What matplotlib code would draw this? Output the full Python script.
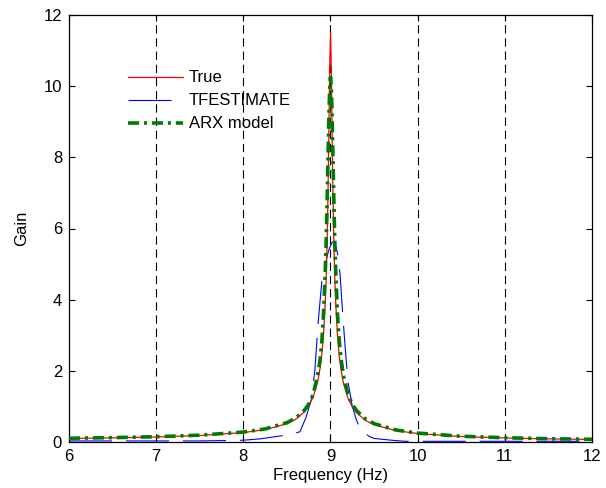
import matplotlib
matplotlib.use("Agg")
import matplotlib.pyplot as plt

plt.rcParams['font.family'] = ['Liberation Sans', 'DejaVu Sans']
plt.rcParams['lines.scale_dashes'] = False

# ---- data ----
freq_true = [6.0, 6.5, 7.0, 7.5, 8.0, 8.25, 8.5, 8.6, 8.7, 8.75, 8.8, 8.85, 8.88, 8.9,
             8.92, 8.94, 8.95, 8.96, 8.97, 8.98, 8.99, 9.0, 9.01, 9.02, 9.03, 9.04,
             9.05, 9.06, 9.08, 9.1, 9.12, 9.15, 9.2, 9.25, 9.3, 9.4, 9.5, 9.75, 10.0,
             10.5, 11.0, 11.5, 12.0]
gain_true = [0.100, 0.116, 0.141, 0.182, 0.265, 0.348, 0.514, 0.639, 0.847, 1.014,
             1.257, 1.664, 2.064, 2.457, 3.03, 3.93, 4.60, 5.51, 6.76, 8.48, 10.46,
             11.50, 10.44, 8.45, 6.73, 5.48, 4.57, 3.90, 3.00, 2.43, 2.04, 1.636,
             1.229, 0.982, 0.820, 0.611, 0.486, 0.320, 0.237, 0.154, 0.1125, 0.0878,
             0.0714]

freq_tfe = [6.0, 6.5, 7.0, 7.5, 7.8, 8.0, 8.2, 8.45, 8.5, 8.6, 8.65, 8.72, 8.78, 8.82,
            8.86, 8.90, 8.94, 8.98, 9.02, 9.05, 9.08, 9.11, 9.14, 9.17, 9.20, 9.25,
            9.30, 9.35, 9.45, 9.5, 9.7, 9.85, 10.0, 10.5, 11.0, 11.5, 12.0]
gain_tfe = [0.03, 0.03, 0.03, 0.03, 0.04, 0.05, 0.09, 0.18, 0.20, 0.25, 0.29, 0.70,
            1.20, 2.00, 3.40, 4.50, 5.00, 5.40, 5.62, 5.62, 5.30, 4.70, 3.60, 2.60,
            1.70, 1.00, 0.60, 0.32, 0.15, 0.10, 0.05, 0.02, 0.02, 0.02, 0.02, 0.02,
            0.02]

freq_arx = freq_true
gain_arx = [0.1056, 0.1226, 0.1484, 0.1919, 0.2794, 0.367, 0.543, 0.673, 0.891, 1.065,
            1.324, 1.85, 2.30, 2.80, 3.60, 4.80, 5.60, 6.60, 7.80, 9.00,
            9.90, 10.25, 9.90, 9.00, 7.80, 6.60, 5.60, 4.80, 3.60, 2.85,
            2.35, 1.85, 1.35, 1.060, 0.880, 0.650, 0.516, 0.338, 0.250, 0.162,
            0.119, 0.0927, 0.0754]

xticks = [6, 7, 8, 9, 10, 11, 12]
yticks = [0, 2, 4, 6, 8, 10, 12]

# ---- figure ----
fig = plt.figure(figsize=(6.06, 4.88), dpi=100)
ax = fig.add_axes([69/606, 1-442/488, (592-69)/606, (442-15)/488])

ax.plot(freq_true, gain_true, color='red', lw=0.9, label='True', zorder=3)
ax.plot(freq_tfe, gain_tfe, color='blue', lw=0.8, dashes=(31, 10),
        label='TFESTIMATE', zorder=2)
ax.plot(freq_arx, gain_arx, color='#007a00', lw=2.6, dashes=(8, 3.5, 2.2, 3.5),
        label='ARX model', zorder=4)

ax.set_xlim(6, 12)
ax.set_ylim(0, 12)
ax.set_xticks(xticks)
ax.set_yticks(yticks)
ax.tick_params(direction='in', top=True, right=True, length=4, width=0.8,
               labelsize=12, pad=5)
for sp in ax.spines.values():
    sp.set_linewidth(0.9)

for x in xticks[1:-1]:
    ax.axvline(x, color='black', lw=0.8, dashes=(6, 3.5), zorder=1)

ax.set_xlabel('Frequency (Hz)', fontsize=12, labelpad=3)
ax.set_ylabel('Gain', fontsize=12, labelpad=10)

leg = ax.legend(loc='upper left', bbox_to_anchor=(0.0996, 0.886), frameon=False,
                fontsize=12, handlelength=3.3, handletextpad=0.36,
                labelspacing=0.48, borderaxespad=0)

fig.savefig('out.png', dpi=100)
